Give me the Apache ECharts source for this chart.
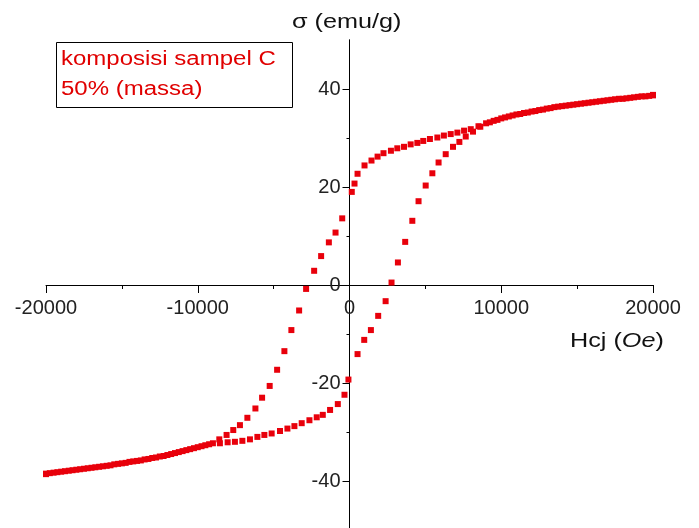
<!DOCTYPE html>
<html>
<head>
<meta charset="utf-8">
<script src="https://cdn.jsdelivr.net/npm/echarts@6/dist/echarts.min.js"></script>
<style>
html,body{margin:0;padding:0;background:#fff;}
#chart{width:699px;height:528px;}
</style>
</head>
<body>
<div id="chart"></div>
<script>
// 下降支路 (从 +20000 扫到 -20000)
var upH = [20000,19500,19000,18500,18000,17500,17000,16500,16000,15500,
  15000,14500,14000,13500,13000,12500,12000,11500,11000,10500,
  10000,9500,9000,
  8500,7990,7550,7110,6670,6220,5790,5300,4860,4470,
  4030,3590,3150,2730,2240,1850,1450,990,530,330,
  150,-480,-920,-1360,-1870,-2330,-2860,-3320,-3830,-4290,
  -4770,-5260,-5760,-6200,-6730,-7220,-7660,-8100,-8580,
  -9000,-9500,-10000,-10500,-11000,-11500,-12000,-12500,-13000,-13500,
  -14000,-14500,-15000,-15500,-16000,-16500,-17000,-17500,-18000,-18500,
  -19000,-19500,-20000];
var upM = [38.7,38.5,38.4,38.2,38.0,37.9,37.7,37.5,37.3,37.1,
  36.9,36.7,36.5,36.3,36.0,35.7,35.4,35.1,34.8,34.4,
  34.0,33.5,33.0,
  32.4,31.8,31.5,31.1,30.8,30.5,30.1,29.8,29.4,29.0,
  28.7,28.2,27.9,27.4,26.9,26.2,25.4,24.4,22.7,20.7,
  19.0,13.6,10.7,8.7,5.9,2.9,-0.8,-5.2,-9.2,-13.5,
  -17.3,-20.6,-23.0,-25.2,-27.1,-28.6,-29.6,-30.6,-31.5,
  -32.3,-32.7,-33.1,-33.5,-33.9,-34.3,-34.7,-35.0,-35.3,-35.6,
  -35.9,-36.1,-36.4,-36.6,-36.9,-37.1,-37.3,-37.5,-37.7,-37.9,
  -38.1,-38.3,-38.5];

// 上升支路 (从 -20000 扫到 +20000)
var lowH = [-20000,-19750,-19250,-18750,-18250,-17750,-17250,-16750,-16250,-15750,
  -15250,-14750,-14250,-13750,-13250,-12750,-12250,-11750,-11250,-10750,
  -10250,-9750,-9250,
  -8540,-8030,-7550,-7060,-6560,-6070,-5610,-5130,-4580,-4090,
  -3630,-3150,-2640,-2160,-1760,-1280,-770,-330,-70,530,
  970,1410,1890,2380,2770,3190,3670,4140,4550,5020,
  5460,5870,6340,6820,7240,7660,8140,8620,
  9250,9750,10250,10750,11250,11750,12250,12750,13250,13750,
  14250,14750,15250,15750,16250,16750,17250,17750,18250,18750,
  19250,19750,20000];
var lowM = [-38.6,-38.4,-38.2,-38.0,-37.8,-37.6,-37.4,-37.2,-37.0,-36.8,
  -36.5,-36.3,-36.0,-35.8,-35.5,-35.2,-34.9,-34.5,-34.1,-33.7,
  -33.3,-32.9,-32.5,
  -32.3,-32.1,-32.0,-31.8,-31.5,-31.0,-30.6,-30.3,-29.8,-29.3,
  -28.8,-28.2,-27.6,-27.0,-26.5,-25.5,-24.3,-22.4,-19.3,-14.1,
  -11.2,-9.2,-6.3,-3.3,0.5,4.6,8.8,13.1,17.1,20.3,
  22.8,25.0,26.7,28.2,29.2,30.3,31.3,32.3,
  33.2,33.7,34.2,34.6,34.9,35.2,35.5,35.8,36.1,36.4,
  36.6,36.8,37.0,37.2,37.4,37.6,37.8,38.0,38.1,38.3,
  38.5,38.6,38.8];

var yLabels = [-40,-20,0,20,40];
var yMinor = [-30,-10,10,30];

function pairs(h, m){
    var out = [];
    for (var i = 0; i < h.length; i++) out.push([h[i], m[i]]);
    return out;
}

var red = '#e8000b';
var font = '"Liberation Sans", Arial, sans-serif';
// 坐标轴穿过原点: 用 offset 把轴线移到 0 处
var gridL = 46, gridW = 607, gridT = 40, gridH = 490;

var chart = echarts.init(document.getElementById('chart'));
chart.setOption({
    animation: false,
    grid: {left: gridL, width: gridW, top: gridT, height: gridH, outerBoundsMode: 'none'},
    xAxis: {
        type: 'value', min: -20000, max: 20000, interval: 10000,
        position: 'bottom', offset: -gridH / 2,
        axisLine: {onZero: false, lineStyle: {color: '#000', width: 1}},
        axisTick: {length: 8, lineStyle: {color: '#000'}},
        minorTick: {show: true, splitNumber: 2, length: 4, lineStyle: {color: '#000'}},
        axisLabel: {margin: 13, fontSize: 20, color: '#222', fontFamily: font,
            formatter: function (v) { return String(v); }},
        splitLine: {show: false}
    },
    yAxis: [{
        type: 'value', min: -50, max: 50,
        position: 'left', offset: -gridW / 2,
        axisLine: {onZero: false, lineStyle: {color: '#000', width: 1}},
        axisTick: {length: 7, customValues: yLabels, lineStyle: {color: '#000'}},
        axisLabel: {customValues: yLabels, margin: 9, fontSize: 20, color: '#222', fontFamily: font},
        splitLine: {show: false}
    }, {
        // 次刻度
        type: 'value', min: -50, max: 50,
        position: 'left', offset: -gridW / 2,
        axisLine: {onZero: false, lineStyle: {color: '#000', width: 1}},
        axisTick: {length: 3, customValues: yMinor, lineStyle: {color: '#000'}},
        axisLabel: {show: false},
        splitLine: {show: false}
    }],
    series: [{
        type: 'scatter', symbol: 'rect', symbolSize: 6,
        data: pairs(upH, upM), itemStyle: {color: red, opacity: 1}
    }, {
        type: 'scatter', symbol: 'rect', symbolSize: 6,
        data: pairs(lowH, lowM), itemStyle: {color: red, opacity: 1}
    }],
    graphic: [{
        type: 'text', x: 292, y: 22, scaleX: 1.2,
        style: {text: 'σ (emu/g)', font: '21px ' + font, fill: '#111', verticalAlign: 'middle'}
    }, {
        type: 'text', x: 570, y: 341, scaleX: 1.2,
        style: {
            text: '{a|Hcj (}{b|Oe}{a|)}',
            verticalAlign: 'middle',
            rich: {
                a: {fontSize: 21, fontFamily: font, fill: '#111'},
                b: {fontSize: 21, fontFamily: font, fontStyle: 'italic', fill: '#111'}
            }
        }
    }, {
        type: 'rect', shape: {x: 56.5, y: 42.5, width: 236, height: 65},
        style: {fill: '#fff', stroke: '#000', lineWidth: 1}
    }, {
        type: 'text', x: 61, y: 59, scaleX: 1.2,
        style: {text: 'komposisi sampel C', font: '20px ' + font, fill: '#e00000', verticalAlign: 'middle'}
    }, {
        type: 'text', x: 61, y: 89, scaleX: 1.2,
        style: {text: '50% (massa)', font: '20px ' + font, fill: '#e00000', verticalAlign: 'middle'}
    }]
});
</script>
</body>
</html>
